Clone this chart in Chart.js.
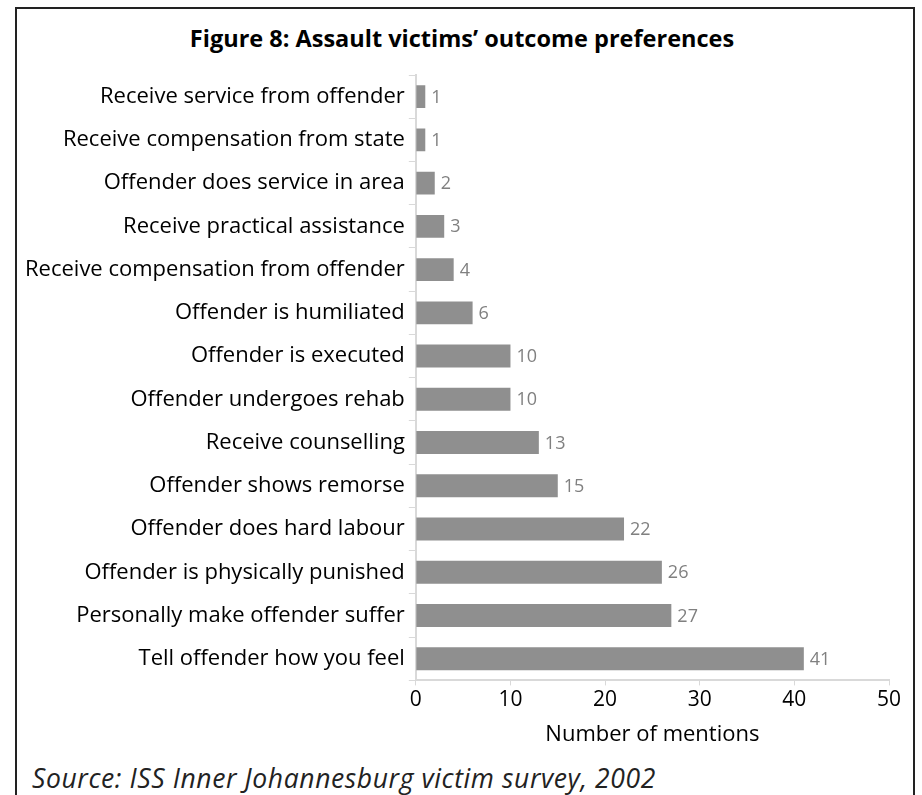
<!DOCTYPE html>
<html lang="en">
<head>
    <meta charset="UTF-8">
    <title>Figure 8: Assault victims’ outcome preferences</title>
    <script src="https://cdn.jsdelivr.net/npm/chart.js"></script>
    <style>
        body {
            margin: 0;
            background: #ffffff;
            font-family: "Open Sans", sans-serif;
        }
        .frame {
            position: absolute;
            left: 15px;
            top: 7px;
            width: 896px;
            height: 800px;
            border: 2px solid #222;
            border-bottom: none;
        }
        .chart-box {
            position: absolute;
            left: 0;
            top: 0;
            width: 896px;
            height: 740px;
        }
        .chart-title {
            position: absolute;
            left: 0;
            top: 18px;
            width: 890px;
            text-align: center;
            font-weight: bold;
            font-size: 23.5px;
            line-height: 1;
            color: #000;
        }
        .source {
            position: absolute;
            left: 15px;
            top: 756px;
            font-style: italic;
            font-size: 26.5px;
            letter-spacing: 0.6px;
            line-height: 1;
            color: #222;
        }
    </style>
</head>
<body>
    <div class="frame">
        <div class="chart-title">Figure 8: Assault victims’ outcome preferences</div>
        <div class="chart-box">
            <canvas id="outcomeChart"></canvas>
        </div>
        <div class="source">Source: ISS Inner Johannesburg victim survey, 2002</div>
    </div>

    <script>
        const categories = [
            'Receive service from offender',
            'Receive compensation from state',
            'Offender does service in area',
            'Receive practical assistance',
            'Receive compensation from offender',
            'Offender is humiliated',
            'Offender is executed',
            'Offender undergoes rehab',
            'Receive counselling',
            'Offender shows remorse',
            'Offender does hard labour',
            'Offender is physically punished',
            'Personally make offender suffer',
            'Tell offender how you feel'
        ];
        const mentions = [1, 1, 2, 3, 4, 6, 10, 10, 13, 15, 22, 26, 27, 41];
        const xTicks = [0, 10, 20, 30, 40, 50];

        // value labels drawn just past the end of each bar
        const barLabels = {
            id: 'barLabels',
            afterDatasetsDraw(chart) {
                const ctx = chart.ctx;
                const meta = chart.getDatasetMeta(0);
                ctx.save();
                ctx.font = '18px "Open Sans"';
                ctx.fillStyle = '#808080';
                ctx.textAlign = 'left';
                ctx.textBaseline = 'middle';
                meta.data.forEach((bar, i) => {
                    ctx.fillText(String(mentions[i]), bar.x + 6, bar.y + 1);
                });
                ctx.restore();
            }
        };

        new Chart(document.getElementById('outcomeChart').getContext('2d'), {
            type: 'bar',
            data: {
                labels: categories,
                datasets: [{
                    data: mentions,
                    backgroundColor: '#8f8f8f',
                    borderWidth: 0,
                    barPercentage: 0.53,
                    categoryPercentage: 1.0
                }]
            },
            options: {
                indexAxis: 'y',
                responsive: true,
                maintainAspectRatio: false,
                animation: false,
                layout: {
                    // top space is left for the html title above
                    padding: { top: 66, left: 4, right: 24, bottom: 1 }
                },
                plugins: {
                    legend: { display: false },
                    tooltip: { enabled: false }
                },
                scales: {
                    x: {
                        min: 0,
                        max: 50,
                        afterBuildTicks: (axis) => {
                            axis.ticks = xTicks.map(v => ({ value: v }));
                        },
                        border: { color: '#d9d9d9', width: 2 },
                        grid: {
                            display: true,
                            drawOnChartArea: false,
                            color: '#d9d9d9',
                            tickLength: 5
                        },
                        ticks: {
                            color: '#000',
                            padding: 2,
                            font: { family: '"Open Sans"', size: 21 }
                        },
                        title: {
                            display: true,
                            text: 'Number of mentions',
                            color: '#000',
                            font: { family: '"Open Sans"', size: 22 },
                            padding: { top: 7, bottom: 0 }
                        }
                    },
                    y: {
                        border: { color: '#d9d9d9', width: 2 },
                        grid: {
                            display: true,
                            drawOnChartArea: false,
                            color: '#d9d9d9',
                            tickLength: 7,
                            offset: true
                        },
                        ticks: {
                            color: '#000',
                            padding: 4,
                            autoSkip: false,
                            font: { family: '"Open Sans"', size: 22 }
                        }
                    }
                }
            },
            plugins: [barLabels]
        });
    </script>
</body>
</html>
